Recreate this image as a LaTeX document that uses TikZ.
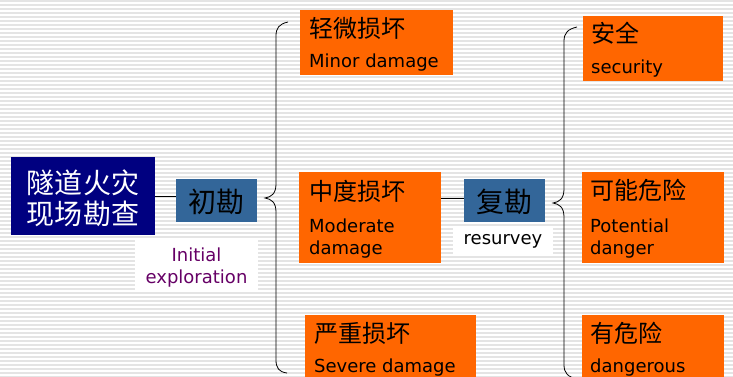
\documentclass[tikz,border=0pt]{standalone}
\usepackage{fontspec}
\setmainfont{DejaVu Sans}
\newfontfamily\cjk{Noto Sans CJK SC}
\definecolor{navybox}{HTML}{000080}
\definecolor{bluebox}{HTML}{336699}
\definecolor{orangebox}{HTML}{FF6600}
\definecolor{purpletext}{HTML}{660066}
\definecolor{stripe}{HTML}{E4E4E4}
\tikzset{
  box/.style={anchor=north west, inner sep=0pt, outer sep=0pt, draw=none},
  obox/.style={box, fill=orangebox},
  cn/.style={anchor=base west, inner sep=0pt, font=\cjk\fontsize{24}{28}\selectfont},
  en/.style={anchor=base west, inner sep=0pt, font=\fontsize{18}{22}\selectfont},
  bigcn/.style={inner sep=0pt, font=\cjk\fontsize{28}{31}\selectfont},
  conn/.style={draw=black, line width=0.8pt},
  brace/.style={draw=black, line width=0.8pt},
}
\begin{document}
\begin{tikzpicture}[x=1pt,y=-1pt]
\useasboundingbox (0,0) rectangle (733,376);
\clip (0,0) rectangle (733,376);
\fill[white] (0,0) rectangle (733,376);
\foreach \k in {0,...,94} {
  \draw[stripe, line width=1.4pt] (0,{1+4*\k}) -- (733,{1+4*\k});
}
% main box
\node[box, fill=navybox, minimum width=144pt, minimum height=78pt] (main) at (11,157) {};
\node[bigcn, text=white, align=center] (maintext) at ([yshift=-2pt]main.center) {隧道火灾\\现场勘查};
% chu kan
\node[box, fill=bluebox, minimum width=81pt, minimum height=43pt] (chu) at (176,179) {};
\node[bigcn, text=black] (chutext) at ([yshift=-1pt]chu.center) {初勘};
\node[box, fill=white, minimum width=123pt, minimum height=54pt] (initial) at (135,238) {};
\node[inner sep=0pt, align=center, text=purpletext, font=\fontsize{18}{22}\selectfont] (initialtext) at ([yshift=-3pt]initial.center) {Initial\\exploration};
\draw[conn] (main.east) -- (main.east -| chu.west);
% brace 1
\coordinate (tip1) at (265,198);
\draw[brace] (288,22) .. controls (279,24) and (276,28) .. (276,36)
  -- (276,184) .. controls (276,194) and (271,197) .. (tip1)
  .. controls (271,199) and (276,202) .. (276,212)
  -- (276,360) .. controls (276,368) and (279,372) .. (287,373);
% minor
\node[obox, minimum width=153pt, minimum height=65pt] (minor) at (300,10) {};
\node[cn] (minorcn) at (309,37) {轻微损坏};
\node[en] (minoren) at (309,67) {Minor damage};
% moderate
\node[obox, minimum width=142pt, minimum height=91pt] (moderate) at (299,172) {};
\node[cn] (modcn) at (309,200) {中度损坏};
\node[en] (moden1) at (309,232) {Moderate};
\node[en] (moden2) at (309,254) {damage};
% severe
\node[obox, minimum width=171pt, minimum height=80pt] (severe) at (305,315) {};
\node[cn] (sevcn) at (314,342) {严重损坏};
\node[en] (seven) at (314,372) {Severe damage};
% fu kan
\node[box, fill=bluebox, minimum width=81pt, minimum height=43pt] (fu) at (464,179) {};
\node[bigcn, text=black] (futext) at ([yshift=-1pt]fu.center) {复勘};
\node[box, fill=white, minimum width=100pt, minimum height=30pt] (resurvey) at (453,226) {};
\node[inner sep=0pt, font=\fontsize{18}{22}\selectfont] (resurveytext) at (resurvey.center) {resurvey};
\draw[conn] (moderate.east |- 0,198) -- (fu.west |- 0,198);
% brace 2
\coordinate (tip2) at (553,203);
\draw[brace] (577,27) .. controls (568,29) and (564,33) .. (564,41)
  -- (564,189) .. controls (564,199) and (559,202) .. (tip2)
  .. controls (559,204) and (564,207) .. (564,217)
  -- (564,365) .. controls (564,373) and (568,377) .. (577,379);
% security
\node[obox, minimum width=140pt, minimum height=65pt] (security) at (583,16) {};
\node[cn] (seccn) at (591,42) {安全};
\node[en] (securityen) at (591,73) {security};
% potential
\node[obox, minimum width=142pt, minimum height=91pt] (potential) at (582,172) {};
\node[cn] (potcn) at (590,199) {可能危险};
\node[en] (poten1) at (590,232) {Potential};
\node[en] (poten2) at (590,254) {danger};
% dangerous
\node[obox, minimum width=142pt, minimum height=80pt] (dangerous) at (582,315) {};
\node[cn] (dancn) at (590,342) {有危险};
\node[en] (danen) at (590,372) {dangerous};
\end{tikzpicture}
\end{document}
